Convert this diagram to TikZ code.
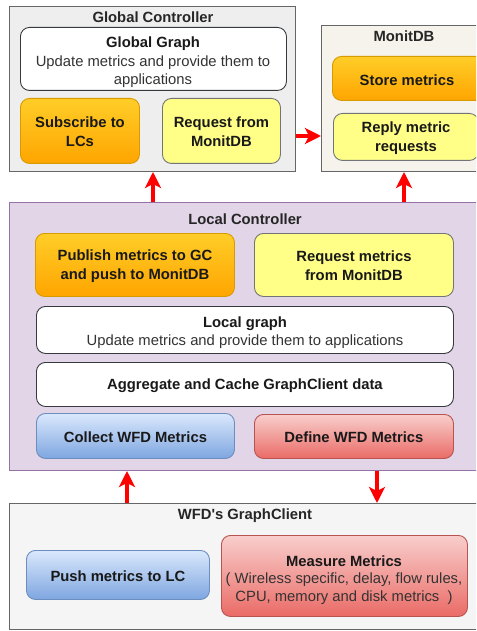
\documentclass[tikz,border=0pt]{standalone}
\usepackage{fontspec}
\setmainfont{Liberation Sans}
\usetikzlibrary{arrows.meta,calc}
\definecolor{gcfill}{HTML}{EEEEEE}
\definecolor{mdbfill}{HTML}{F6F3EC}
\definecolor{lcfill}{HTML}{E1D5E7}
\definecolor{lcdraw}{HTML}{9673A6}
\definecolor{wfdfill}{HTML}{F5F5F5}
\definecolor{darkline}{HTML}{666666}
\definecolor{boxline}{HTML}{36393D}
\definecolor{orA}{HTML}{FFCD28}
\definecolor{orB}{HTML}{FFA500}
\definecolor{ordraw}{HTML}{D79B00}
\definecolor{yel}{HTML}{FFFF88}
\definecolor{blA}{HTML}{DAE8FC}
\definecolor{blB}{HTML}{7EA6E0}
\definecolor{bldraw}{HTML}{6C8EBF}
\definecolor{rdA}{HTML}{F8CECC}
\definecolor{rdB}{HTML}{EA6B66}
\definecolor{rddraw}{HTML}{B85450}
\definecolor{arrowred}{HTML}{FF0000}
\tikzset{
  container/.style={draw=darkline, line width=0.9pt, anchor=north west, inner sep=0pt},
  inbox/.style={rounded corners=9pt, line width=0.9pt, anchor=north west, inner sep=0pt},
  orangebox/.style={inbox, draw=ordraw, top color=orA, bottom color=orB},
  yellowbox/.style={inbox, draw=boxline!70, fill=yel},
  whitebox/.style={inbox, draw=boxline, fill=white},
  bluebox/.style={inbox, draw=bldraw, top color=blA, bottom color=blB},
  redbox/.style={inbox, draw=rddraw, top color=rdA, bottom color=rdB},
  ttl/.style={font=\fontsize{14.8}{18}\selectfont\bfseries, text=black!85},
  lbl/.style={font=\fontsize{14.8}{19}\selectfont\bfseries, align=center, text=black!90},
  txt/.style={font=\fontsize{14.8}{18}\selectfont, align=center, text=black!80},
  redarrow/.style={draw=arrowred, line width=4pt, -{Stealth[width=16pt,length=16pt,inset=4pt]}}
}
\begin{document}
\begin{tikzpicture}[x=1pt,y=-1pt]
\useasboundingbox (0,0) rectangle (476,631);
\clip (0,0) rectangle (476,631);
% Global Controller
\node[container, fill=gcfill, minimum width=286pt, minimum height=165pt] (gc) at (9,6) {};
\node[ttl] (gct) at (153,17) {Global Controller};
\node[whitebox, minimum width=266pt, minimum height=63pt] (gg) at (20,27) {};
\node[lbl] (ggt) at (153,44) {Global Graph};
\node[txt] (ggs) at (153,72) {Update metrics and provide them to\\applications};
\node[orangebox, minimum width=119pt, minimum height=65pt] (sub) at (20,98) {};
\node[lbl] at ($(sub.center)+(0,1)$) {Subscribe to\\LCs};
\node[yellowbox, minimum width=118pt, minimum height=65pt] (req) at (162,98) {};
\node[lbl] at ($(req.center)+(0,1)$) {Request from\\MonitDB};
% MonitDB
\node[container, fill=mdbfill, minimum width=200pt, minimum height=146pt] (mdb) at (321,25) {};
\node[ttl] (mdbt) at (404,36) {MonitDB};
\node[orangebox, minimum width=152pt, minimum height=44pt] (store) at (332,56) {};
\node[lbl] at (407,80) {Store metrics};
\node[yellowbox, minimum width=145pt, minimum height=47pt] (reply) at (333,113) {};
\node[lbl] at (406,138) {Reply metric\\requests};
% Local Controller
\node[container, draw=lcdraw, fill=lcfill, minimum width=500pt, minimum height=268pt] (lc) at (9,202) {};
\node[ttl] (lct) at (245,219) {Local Controller};
\node[orangebox, minimum width=199pt, minimum height=63pt] (pub) at (35,233) {};
\node[lbl] at ($(pub.center)+(0,1)$) {Publish metrics to GC\\and push to MonitDB};
\node[yellowbox, minimum width=199pt, minimum height=63pt] (rqm) at (254,233) {};
\node[lbl] at ($(rqm.center)+(0,1)$) {Request metrics\\from MonitDB};
\node[whitebox, minimum width=417pt, minimum height=47pt] (lg) at (36,306) {};
\node[lbl] (lgt) at (245,324) {Local graph};
\node[txt] (lgs) at (245,342) {Update metrics and provide them to applications};
\node[whitebox, minimum width=417pt, minimum height=44pt] (agg) at (36,362) {};
\node[lbl] at ($(agg.center)+(0,1)$) {Aggregate and Cache GraphClient data};
\node[bluebox, minimum width=198pt, minimum height=45pt] (col) at (36,413) {};
\node[lbl] at ($(col.center)+(0,1)$) {Collect WFD Metrics};
\node[redbox, minimum width=199pt, minimum height=44pt] (def) at (254,414) {};
\node[lbl] at ($(def.center)+(0,1)$) {Define WFD Metrics};
% WFD's GraphClient
\node[container, fill=wfdfill, minimum width=500pt, minimum height=126pt] (wfd) at (9,503) {};
\node[ttl] (wfdt) at (245,516) {WFD\textquotesingle s GraphClient};
\node[bluebox, minimum width=183pt, minimum height=49pt] (push) at (26,550) {};
\node[lbl] at ($(push.center)+(0,1)$) {Push metrics to LC};
\node[redbox, minimum width=246pt, minimum height=81pt] (meas) at (221,535) {};
\node[lbl] (meast) at (344,561) {Measure Metrics};
\node[txt] (meass) at (344,589) {( Wireless specific, delay, flow rules,\\CPU, memory and disk metrics~~)};
% arrows
\coordinate (a1s) at (153,202);
\coordinate (a1e) at (153,172);
\coordinate (a2s) at (404,202);
\coordinate (a2e) at (404,172);
\coordinate (a3s) at (296,136);
\coordinate (a3e) at (321,136);
\coordinate (a4s) at (127,503);
\coordinate (a4e) at (127,471);
\coordinate (a5s) at (377,471);
\coordinate (a5e) at (377,503);
\draw[redarrow] (a1s) -- (a1e);
\draw[redarrow] (a2s) -- (a2e);
\draw[redarrow] (a3s) -- (a3e);
\draw[redarrow] (a4s) -- (a4e);
\draw[redarrow] (a5s) -- (a5e);
\end{tikzpicture}
\end{document}
